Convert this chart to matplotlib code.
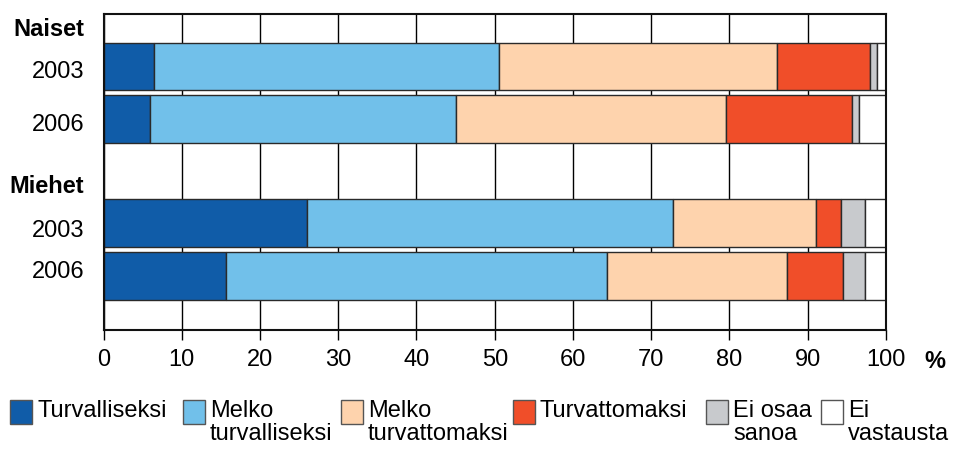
import matplotlib
matplotlib.use("Agg")
import matplotlib.pyplot as plt
from matplotlib.patches import Rectangle
import matplotlib.transforms as mtransforms
import numpy as np

plt.rcParams['font.family'] = ['Liberation Sans Narrow', 'Liberation Sans', 'DejaVu Sans']

categories = ["Turvalliseksi", "Melko\nturvalliseksi", "Melko\nturvattomaksi",
              "Turvattomaksi", "Ei osaa\nsanoa", "Ei\nvastausta"]
colors = ["#105ca8", "#71c0ea", "#fed3ad", "#f04e29", "#c8cacd", "#ffffff"]

rows = ["Naiset 2003", "Naiset 2006", "Miehet 2003", "Miehet 2006"]
turvalliseksi = [6.5, 5.9, 26.0, 15.7]
melko_turvalliseksi = [44.1, 39.2, 46.8, 48.7]
melko_turvattomaksi = [35.5, 34.4, 18.2, 22.9]
turvattomaksi = [11.9, 16.1, 3.3, 7.2]
ei_osaa_sanoa = [0.8, 1.0, 3.0, 2.8]
ei_vastausta = [1.2, 3.4, 2.7, 2.7]

ytick_labels = ["Naiset", "2003", "2006", "Miehet", "2003", "2006"]
xtick_labels = ["0", "10", "20", "30", "40", "50", "60", "70", "80", "90", "100"]

series = [turvalliseksi, melko_turvalliseksi, melko_turvattomaksi,
          turvattomaksi, ei_osaa_sanoa, ei_vastausta]
bar_pos = [1, 2, 3.97, 4.98]
label_pos = [0.26, 1.07, 2.06, 3.23, 4.07, 4.86]

fig = plt.figure(figsize=(9.54, 4.5), dpi=100)
ax = fig.add_axes([0.1085, 0.2667, 0.8202, 0.7033])

left = np.zeros(len(rows))
for vals, col in zip(series, colors):
    ax.barh(bar_pos, vals, left=left, height=0.9, color=col,
            edgecolor="#2a2a2a", linewidth=1.0, zorder=3)
    left += np.array(vals)

ax.set_xlim(0, 100)
ax.set_ylim(6, 0)
ax.set_xticks(np.arange(0, 101, 10))
ax.set_xticklabels(xtick_labels, fontsize=17)
ax.set_yticks(label_pos)
ax.set_yticklabels(ytick_labels, fontsize=17)
ylabels = ax.get_yticklabels()
for i, t in enumerate(ylabels):
    if ytick_labels[i] in ("Naiset", "Miehet"):
        t.set_fontweight("bold")
# last label sits slightly to the right in the reference
ylabels[-1].set_transform(ylabels[-1].get_transform() +
                          mtransforms.ScaledTranslation(4 / 100, 0, fig.dpi_scale_trans))
ax.tick_params(axis="y", length=0, pad=14)
ax.tick_params(axis="x", length=7.5, width=1, color="black", pad=6)
ax.grid(axis="x", color="black", linewidth=1, zorder=0)
for s in ax.spines.values():
    s.set_linewidth(1.5)
    s.set_color("#111111")
    s.set_zorder(4)

fig.text(935 / 954, 1 - 361 / 450, "%", fontsize=17, fontweight="bold",
         ha="center", va="center")

# legend
leg_x = [10, 183, 341, 513, 706, 821]
sq_w, sq_h = 22, 24
for x, lab, col in zip(leg_x, categories, colors):
    fig.patches.append(Rectangle((x / 954, 1 - 424 / 450), sq_w / 954, sq_h / 450,
                                 transform=fig.transFigure, facecolor=col,
                                 edgecolor="#555555", linewidth=1.0))
    fig.text((x + sq_w + 5) / 954, 1 - 400 / 450, lab, fontsize=17,
             ha="left", va="top", linespacing=1.05)

fig.savefig("out.png", dpi=100)
